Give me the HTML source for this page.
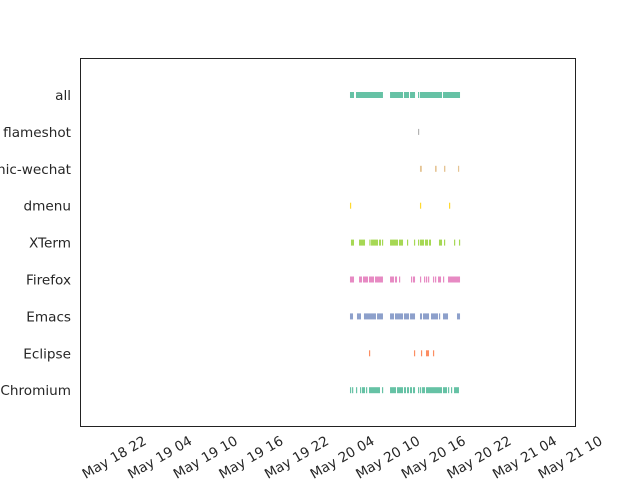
<!DOCTYPE html>
<html><head><meta charset="utf-8"><style>body{margin:0;background:#fff}svg{display:block;font-family:"DejaVu Sans","Liberation Sans",sans-serif}</style></head>
<body>
<svg id="chart" width="640" height="480" viewBox="0 0 640 480">
<rect x="80.5" y="58.5" width="495" height="368" fill="#fff" stroke="#222" stroke-width="1"/>
<g id="marks"></g><g id="ylab"></g><g id="xlab"></g>
</svg>
<script>
// hours relative to May 20 00:00
const categories = ["all","flameshot","electronic-wechat","dmenu","XTerm","Firefox","Emacs","Eclipse","Chromium"];
const colors = ["#66c2a5","#b3b3b3","#e5c494","#ffd92f","#a6d854","#e78ac3","#8da0cb","#fc8d62","#66c2a5"];
const allSeg = [[5.05,5.58],[5.84,9.39],[10.32,12.03],[12.16,12.82],[12.95,13.61],[14.0,14.13],[14.26,17.16],[17.29,19.53]];
const flameshotSeg = [[14.0,14.1]];
const wechatSeg = [[14.26,14.5],[16.24,16.45],[17.42,17.6],[19.26,19.4]];
const dmenuSeg = [[5.05,5.15],[14.26,14.35],[18.08,18.18]];
const xtermSeg = [[5.18,5.58],[6.24,7.03],[7.6,7.7],[7.82,8.74],[8.87,9.13],[9.26,9.3],[10.32,11.37],[11.5,12.03],[12.55,12.6],[13.47,13.52],[14.0,14.1],[14.26,14.79],[14.92,15.32],[15.45,15.71],[16.76,17.16],[17.42,17.55],[18.74,18.87],[19.39,19.53]];
const firefoxSeg = [[5.05,5.58],[6.24,6.63],[6.76,7.42],[7.55,8.21],[8.34,9.39],[10.32,10.84],[10.97,11.24],[11.5,11.63],[13.08,13.21],[13.34,13.61],[14.26,14.39],[14.79,14.92],[15.05,15.18],[15.32,15.45],[15.97,16.11],[16.24,16.37],[16.63,17.03],[17.29,17.42],[17.95,19.53]];
const emacsSeg = [[5.05,5.45],[5.97,6.5],[6.89,8.47],[8.61,9.39],[10.32,10.84],[10.97,12.03],[12.16,12.82],[12.95,13.61],[14.26,14.53],[14.66,15.45],[15.71,16.63],[16.76,16.89],[17.29,17.95],[19.13,19.53]];
const eclipseSeg = [[7.55,7.65],[13.47,13.57],[14.39,14.5],[15.05,15.45],[15.97,16.07]];
const chromiumSeg = [[5.05,5.18],[5.32,5.45],[5.84,5.97],[6.37,6.5],[6.63,7.03],[7.16,7.29],[7.55,9.0],[9.26,9.39],[10.32,11.11],[11.24,12.03],[12.16,12.42],[12.55,12.82],[12.95,13.21],[13.34,13.61],[14.0,14.13],[14.26,14.39],[14.53,14.92],[15.05,17.16],[17.29,17.82],[17.95,18.08],[18.34,18.47],[18.74,19.39]];
const segments = [allSeg,flameshotSeg,wechatSeg,dmenuSeg,xtermSeg,firefoxSeg,emacsSeg,eclipseSeg,chromiumSeg];
const tickHours = [-26,-20,-14,-8,-2,4,10,16,22,28,34];
const tickLabels = ["May 18 22","May 19 04","May 19 10","May 19 16","May 19 22","May 20 04","May 20 10","May 20 16","May 20 22","May 21 04","May 21 10"];

const NS="http://www.w3.org/2000/svg";
function xScale(h){return 342+(h-4)*7.6;}
function yScale(i){return 95+i*36.9;}
const marks=document.getElementById('marks'), ylab=document.getElementById('ylab'), xlab=document.getElementById('xlab');
categories.forEach((c,i)=>{
  const y=yScale(i);
  segments[i].forEach(s=>{
    const r=document.createElementNS(NS,'rect');
    
    
    const x0=xScale(s[0]), w=Math.max(1.2,xScale(s[1])-x0);
    r.setAttribute('x',x0);r.setAttribute('y',y-3);r.setAttribute('width',w);r.setAttribute('height',6);
    r.setAttribute('fill',colors[i]);
    marks.appendChild(r);
  });
  const t=document.createElementNS(NS,'text');
  
  
  t.setAttribute('x',71);t.setAttribute('y',y+5);t.setAttribute('text-anchor','end');t.setAttribute('font-size','13.6');t.setAttribute('fill','#262626');
  t.textContent=c;ylab.appendChild(t);
});
tickHours.forEach((h,i)=>{
  const x=xScale(h);
  const t=document.createElementNS(NS,'text');
  
  
  t.setAttribute('x',x);t.setAttribute('y',462);t.setAttribute('text-anchor','middle');t.setAttribute('font-size','13.6');t.setAttribute('fill','#262626');
  t.setAttribute('transform','rotate(-30 '+x+' 457)');
  t.textContent=tickLabels[i];xlab.appendChild(t);
});
</script>
</body></html>
